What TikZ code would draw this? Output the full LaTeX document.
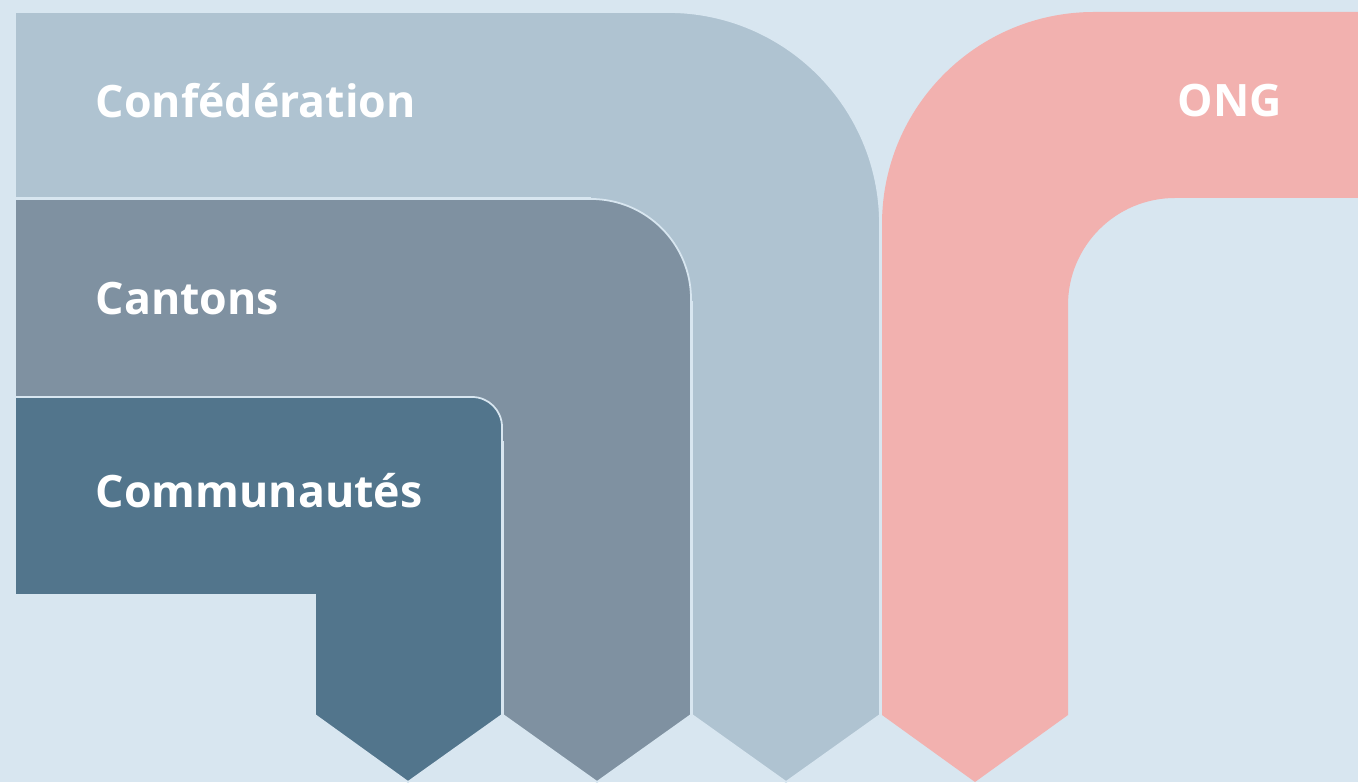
\documentclass[tikz,border=0pt]{standalone}
\usepackage{fontspec}
\usepackage{xcolor}
\setsansfont{Open Sans}
\definecolor{paneBg}{RGB}{216,230,240}
\definecolor{confGrey}{RGB}{175,195,209}
\definecolor{cantonGrey}{RGB}{127,145,161}
\definecolor{communeBlue}{RGB}{82,117,140}
\definecolor{ongPink}{RGB}{242,177,175}

\begin{document}
\begin{tikzpicture}[x=0.01cm, y=0.01cm,
    band/.style={draw=paneBg, line width=0.5pt, line join=miter},
    tier/.style={font=\sffamily\bfseries\fontsize{12.7}{15}\selectfont, text=white, inner sep=0pt, anchor=base west}
  ]
  \fill[paneBg] (0,0) rectangle (1358,782);
  \useasboundingbox (0,0) rectangle (1358,782);

  % levels, back to front
  \filldraw[band, fill=confGrey] (15,770) -- (668,770) arc[start angle=90, end angle=0, radius=212]
    -- (880,67) -- (786,0) -- (692,67) -- (692,480) -- (590,480) -- (590,584) -- (15,584) -- cycle;
  \filldraw[band, fill=cantonGrey] (15,583) -- (591,583) arc[start angle=90, end angle=0, radius=100]
    -- (691,67) -- (597,0) -- (503,67) -- (503,340) -- (470,340) -- (470,385) -- (15,385) -- cycle;
  \filldraw[band, fill=communeBlue] (15,385) -- (472,385) arc[start angle=90, end angle=0, radius=30]
    -- (502,67) -- (408,0) -- (315,67) -- (315,187) -- (15,187) -- cycle;
  \fill[ongPink] (1358,770) -- (1094,770) arc[start angle=90, end angle=180, radius=212]
    -- (882,67) -- (975,0) -- (1068,67) -- (1068,477) arc[start angle=180, end angle=90, radius=107]
    -- (1358,584) -- cycle;

  \node[tier] (conf) at (95,664) {Confédération};
  \node[tier] (cant) at (95,467) {Cantons};
  \node[tier] (comm) at (95,274) {Communautés};
  \node[tier] (ong) at (1177,665) {ONG};
\end{tikzpicture}
\end{document}
